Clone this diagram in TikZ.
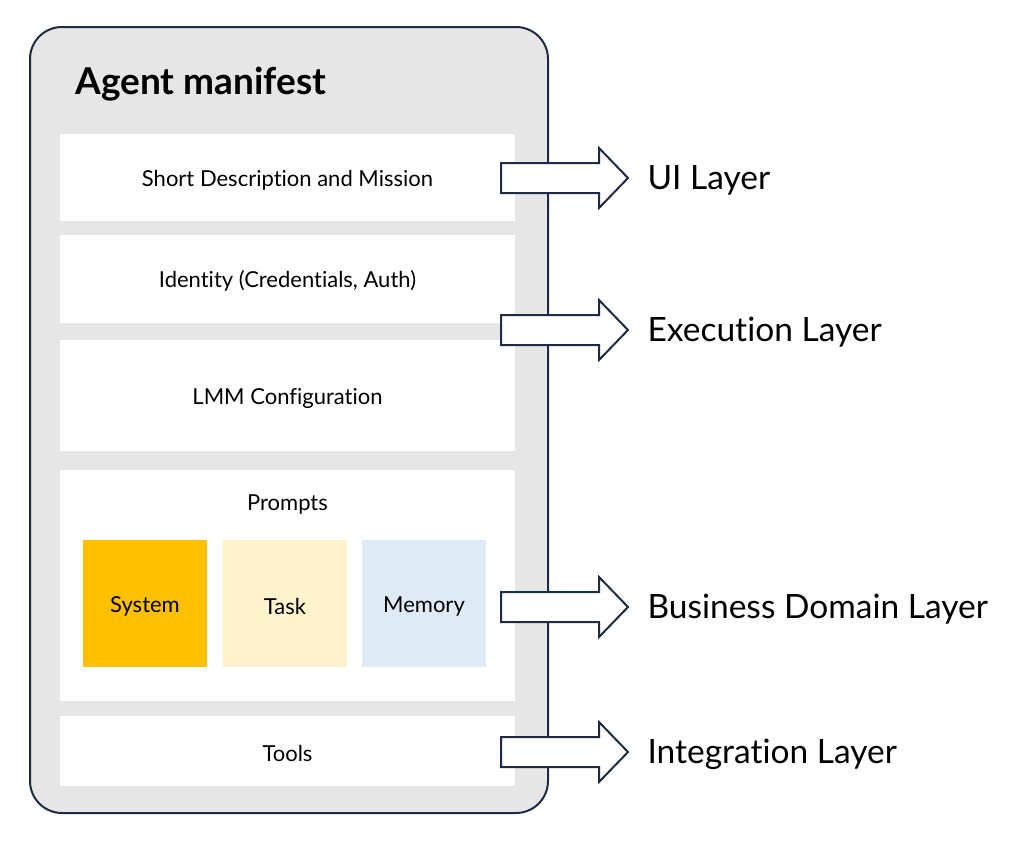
\documentclass[tikz,border=0pt]{standalone}
\usepackage{fontspec}
\setmainfont{Lato}[Ligatures=NoCommon]
\definecolor{navy}{HTML}{1F2A44}
\definecolor{panel}{HTML}{E7E6E7}
\definecolor{sysc}{HTML}{FFC000}
\definecolor{taskc}{HTML}{FFF2CC}
\definecolor{memc}{HTML}{DEEBF7}
\begin{document}
\begin{tikzpicture}[x=1pt,y=-1pt,
  sect/.style={fill=white,draw=none},
  sectlabel/.style={font=\fontsize{22}{26}\selectfont,text=black},
  layerlabel/.style={anchor=west,font=\fontsize{33.5}{38}\selectfont,text=black},
  blockarrow/.style={draw=navy,line width=2pt,fill=white,line join=miter}]
\useasboundingbox (0,0) rectangle (1013,847);
% outer panel
\draw[fill=panel,draw=navy,line width=2pt,rounded corners=32pt] (30,27) rectangle (548,813);
\node[anchor=west,font=\fontsize{37}{42}\selectfont\bfseries] (title) at (72,84) {Agent manifest};
% sections
\fill[sect] (60,134) rectangle (515,221);
\node[sectlabel] (s1) at (287.5,180) {Short Description and Mission};
\fill[sect] (60,235) rectangle (515,323);
\node[sectlabel] (s2) at (287.5,281) {Identity (Credentials, Auth)};
\fill[sect] (60,340) rectangle (515,451);
\node[sectlabel] (s3) at (287.5,398) {LMM Configuration};
\fill[sect] (60,470) rectangle (515,701);
\node[sectlabel] (s4) at (287.5,504) {Prompts};
\fill[sect] (60,716) rectangle (515,786);
\node[sectlabel] (s5) at (287.5,753) {Tools};
% prompt boxes
\fill[sysc] (83,540) rectangle (207,667);
\node[sectlabel] (sys) at (145,606) {System};
\fill[taskc] (223,540) rectangle (347,667);
\node[sectlabel] (task) at (285,606) {Task};
\fill[memc] (362,540) rectangle (486,667);
\node[sectlabel] (mem) at (424,606) {Memory};
% arrows
\foreach \yy/\lab/\nm in {178/UI Layer/ui,330/Execution Layer/ex,607/Business Domain Layer/bd,752/Integration Layer/il}{
  \draw[blockarrow] (501,\yy-15) -- (599,\yy-15) -- (599,\yy-30) -- (628,\yy) -- (599,\yy+30) -- (599,\yy+15) -- (501,\yy+15) -- cycle;
  \node[layerlabel] (\nm) at (644,\yy+2.5) {\lab};
}
\end{tikzpicture}
\end{document}
